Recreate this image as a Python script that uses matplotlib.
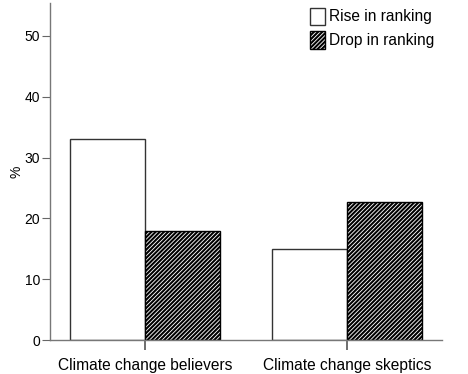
import numpy as np
import matplotlib.pyplot as plt

plt.rcParams['font.family'] = ['Liberation Sans', 'DejaVu Sans']
plt.rcParams['hatch.linewidth'] = 1.5

groups = ["Climate change believers", "Climate change skeptics"]
rise = [33.0, 15.0]
drop = [18.0, 22.7]
series_names = ["Rise in ranking", "Drop in ranking"]

W, H = 468, 374
fig = plt.figure(figsize=(W / 100, H / 100), dpi=100)
ax = fig.add_axes([50 / W, 34 / H, 392 / W, 337 / H])

x = np.arange(len(groups))
bw = 0.371
ax.bar(x - bw / 2, rise, bw, color='white', edgecolor='#333333', linewidth=1.0,
       label=series_names[0])
ax.bar(x + bw / 2, drop, bw, color='white', edgecolor='black', linewidth=1.0,
       hatch='////////', label=series_names[1])

ax.set_xlim(-0.47, 1.47)
ax.set_ylim(0, 55.4)
ax.set_yticks([0, 10, 20, 30, 40, 50])
ax.set_xticks(x)
ax.set_xticklabels(groups, fontsize=11.2)
ax.tick_params(axis='y', labelsize=10, length=6, color='#666666', pad=1)
ax.tick_params(axis='x', length=7, color='#555555', width=1.2, pad=6)
ax.set_ylabel('%', fontsize=10)
ax.yaxis.set_label_coords(-0.068, 0.5)

for s in ['top', 'right']:
    ax.spines[s].set_visible(False)
for s in ['left', 'bottom']:
    ax.spines[s].set_color('#777777')
    ax.spines[s].set_linewidth(1.0)

ax.legend(loc='upper right', bbox_to_anchor=(0.995, 1.005), frameon=False, fontsize=11.2,
          handlelength=1.0, handleheight=1.35, handletextpad=0.2, labelspacing=0.4,
          borderaxespad=0)

fig.savefig('out.png', dpi=100)
